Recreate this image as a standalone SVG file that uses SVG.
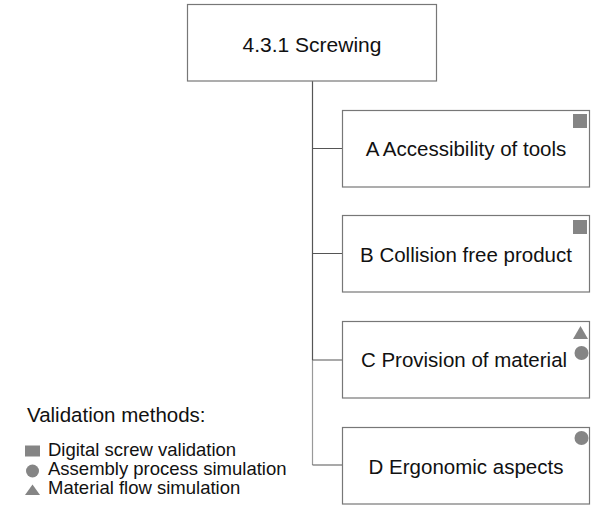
<svg xmlns="http://www.w3.org/2000/svg" width="592" height="506" viewBox="0 0 592 506">
<style>
.box{fill:#fff;stroke:#777;stroke-width:1.2}
.t{font-family:"Liberation Sans",Arial,sans-serif;font-size:20.5px;fill:#111;text-anchor:middle}
.lg{font-family:"Liberation Sans",Arial,sans-serif;font-size:18.5px;fill:#111}
.mk{fill:#858585}
.c{fill:none;stroke:#555;stroke-width:1.2}
.cl{fill:none;stroke:#999;stroke-width:1.2}
</style>
<rect width="592" height="506" fill="#fff"/>
<g id="connectors">
<path class="c" d="M312.5 81V360"/>
<path class="cl" d="M312.5 360V465"/>
<path class="c" d="M312.5 148.5H342M312.5 253.5H342M312.5 360H342M312.5 465H342"/>
</g>
<g id="root">
<rect class="box" x="187.5" y="4.5" width="249" height="76.5"/>
<text class="t" x="312" y="52" style="font-size:21px">4.3.1 Screwing</text>
</g>
<g id="nodeA">
<rect class="box" x="342.5" y="110.5" width="247" height="76.5"/>
<rect class="mk" x="573" y="114" width="14" height="14"/>
<text class="t" x="466" y="155.5">A Accessibility of tools</text>
</g>
<g id="nodeB">
<rect class="box" x="342.5" y="215.5" width="247" height="76.5"/>
<rect class="mk" x="573" y="220" width="14" height="14"/>
<text class="t" x="466" y="262">B Collision free product</text>
</g>
<g id="nodeC">
<rect class="box" x="342.5" y="321.5" width="247" height="76.5"/>
<polygon class="mk" points="580.5,326 588,339 573,339"/>
<circle class="mk" cx="581.5" cy="353" r="7"/>
<text class="t" x="464" y="367">C Provision of material</text>
</g>
<g id="nodeD">
<rect class="box" x="342.5" y="427.5" width="247" height="76.5"/>
<circle class="mk" cx="581.5" cy="438" r="7"/>
<text class="t" x="466" y="474">D Ergonomic aspects</text>
</g>
<g id="legend">
<text class="lg" x="27" y="422" style="font-size:20.5px">Validation methods:</text>
<rect class="mk" x="25" y="445.5" width="15" height="11"/>
<text class="lg" x="48" y="456">Digital screw validation</text>
<circle class="mk" cx="32.5" cy="471" r="6.5"/>
<text class="lg" x="48" y="475">Assembly process simulation</text>
<polygon class="mk" points="32.5,484.5 40,495 25,495"/>
<text class="lg" x="48" y="494">Material flow simulation</text>
</g>
</svg>
